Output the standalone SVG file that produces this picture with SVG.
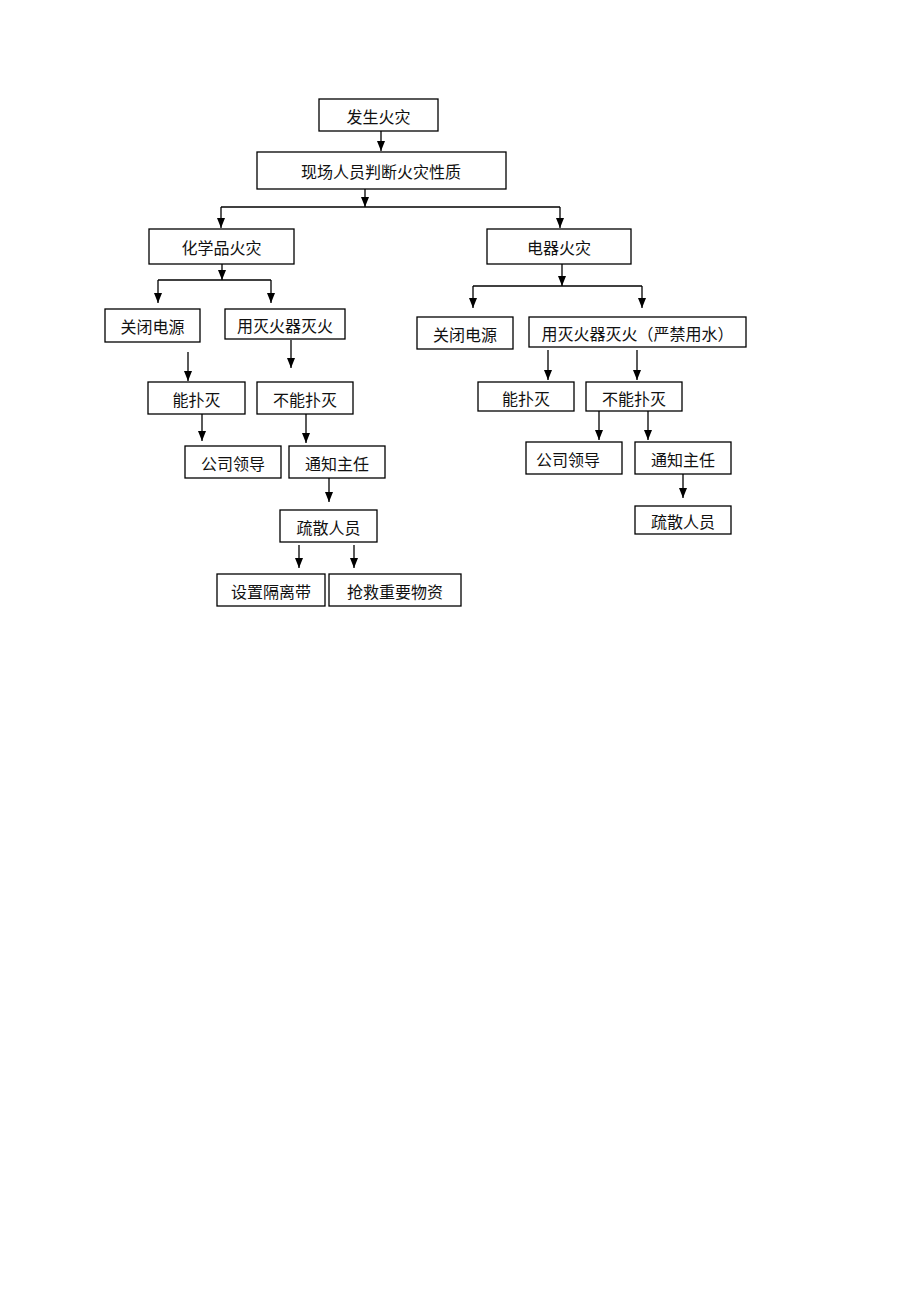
<svg xmlns="http://www.w3.org/2000/svg" width="920" height="1302" viewBox="0 0 920 1302">
<style>
.box{fill:#fff;stroke:#000;stroke-width:1.3}
.lbl{font-family:"Noto Sans CJK SC","Noto Sans",sans-serif;font-size:16px;fill:#111;text-anchor:middle;dominant-baseline:central}
.ln{stroke:#000;stroke-width:1.3;fill:none}
.ar{stroke:#000;stroke-width:1.3;fill:none;marker-end:url(#ah)}
</style>
<defs>
<marker id="ah" markerUnits="userSpaceOnUse" markerWidth="10" markerHeight="10" refX="10" refY="4" orient="auto">
<path d="M0,0 L10,4 L0,8 z" fill="#000"/>
</marker>
</defs>
<rect width="920" height="1302" fill="#fff"/>
<g id="connectors">
<line class="ar" x1="381" y1="131" x2="381" y2="151"/>
<line class="ar" x1="365" y1="189" x2="365" y2="207"/>
<line class="ln" x1="221" y1="207" x2="560" y2="207"/>
<line class="ar" x1="221" y1="207" x2="221" y2="228"/>
<line class="ar" x1="560" y1="207" x2="560" y2="228"/>
<line class="ar" x1="222" y1="264" x2="222" y2="280"/>
<line class="ln" x1="158" y1="280" x2="271" y2="280"/>
<line class="ar" x1="158" y1="280" x2="158" y2="303"/>
<line class="ar" x1="271" y1="280" x2="271" y2="303"/>
<line class="ar" x1="562" y1="264" x2="562" y2="286"/>
<line class="ln" x1="473" y1="286" x2="642" y2="286"/>
<line class="ar" x1="473" y1="286" x2="473" y2="308"/>
<line class="ar" x1="642" y1="286" x2="642" y2="308"/>
<line class="ar" x1="188" y1="352" x2="188" y2="381"/>
<line class="ar" x1="291" y1="340" x2="291" y2="368"/>
<line class="ar" x1="202" y1="414" x2="202" y2="441"/>
<line class="ar" x1="306" y1="414" x2="306" y2="443"/>
<line class="ar" x1="329" y1="478" x2="329" y2="502"/>
<line class="ar" x1="299" y1="545" x2="299" y2="568"/>
<line class="ar" x1="354" y1="545" x2="354" y2="568"/>
<line class="ar" x1="548" y1="350" x2="548" y2="380"/>
<line class="ar" x1="637" y1="350" x2="637" y2="380"/>
<line class="ar" x1="599" y1="411" x2="599" y2="440"/>
<line class="ar" x1="648" y1="411" x2="648" y2="440"/>
<line class="ar" x1="683" y1="474" x2="683" y2="498"/>
</g>
<g id="n1"><rect class="box" x="319" y="99" width="119" height="32"/><text class="lbl" x="378.5" y="116">发生火灾</text></g>
<g id="n2"><rect class="box" x="257" y="152" width="249" height="37"/><text class="lbl" x="381" y="171">现场人员判断火灾性质</text></g>
<g id="n3"><rect class="box" x="149" y="229" width="145" height="35"/><text class="lbl" x="221.5" y="247">化学品火灾</text></g>
<g id="n4"><rect class="box" x="487" y="229" width="144" height="35"/><text class="lbl" x="559" y="247">电器火灾</text></g>
<g id="n5"><rect class="box" x="105" y="309" width="95" height="33"/><text class="lbl" x="152.5" y="326">关闭电源</text></g>
<g id="n6"><rect class="box" x="225" y="309" width="120" height="30"/><text class="lbl" x="285" y="325">用灭火器灭火</text></g>
<g id="n7"><rect class="box" x="417" y="317" width="96" height="32"/><text class="lbl" x="465" y="334">关闭电源</text></g>
<g id="n8"><rect class="box" x="529" y="317" width="217" height="30"/><text class="lbl" x="637.5" y="333">用灭火器灭火（严禁用水）</text></g>
<g id="n9"><rect class="box" x="148" y="382" width="97" height="32"/><text class="lbl" x="196.5" y="399">能扑灭</text></g>
<g id="n10"><rect class="box" x="257" y="382" width="96" height="32"/><text class="lbl" x="305" y="399">不能扑灭</text></g>
<g id="n11"><rect class="box" x="478" y="382" width="96" height="29"/><text class="lbl" x="526" y="397.5">能扑灭</text></g>
<g id="n12"><rect class="box" x="586" y="382" width="96" height="29"/><text class="lbl" x="634" y="397.5">不能扑灭</text></g>
<g id="n13"><rect class="box" x="185" y="446" width="96" height="32"/><text class="lbl" x="233" y="463">公司领导</text></g>
<g id="n14"><rect class="box" x="289" y="446" width="96" height="32"/><text class="lbl" x="337" y="463">通知主任</text></g>
<g id="n15"><rect class="box" x="526" y="442" width="96" height="32"/><text class="lbl" x="568" y="459">公司领导</text></g>
<g id="n16"><rect class="box" x="635" y="442" width="96" height="32"/><text class="lbl" x="683" y="459">通知主任</text></g>
<g id="n17"><rect class="box" x="280" y="510" width="97" height="32"/><text class="lbl" x="328.5" y="527">疏散人员</text></g>
<g id="n18"><rect class="box" x="635" y="506" width="96" height="28"/><text class="lbl" x="683" y="521">疏散人员</text></g>
<g id="n19"><rect class="box" x="217" y="574" width="108" height="32"/><text class="lbl" x="271" y="591">设置隔离带</text></g>
<g id="n20"><rect class="box" x="329" y="574" width="132" height="32"/><text class="lbl" x="395" y="591">抢救重要物资</text></g>
</svg>
